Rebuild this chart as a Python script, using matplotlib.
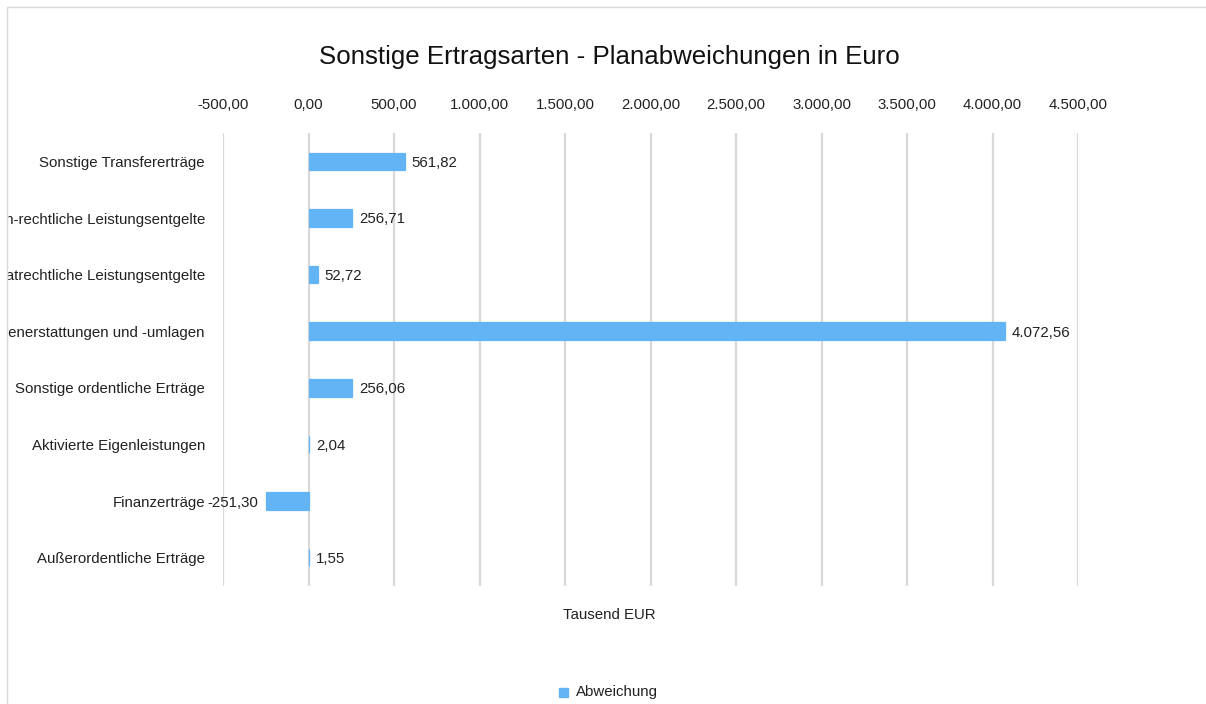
import matplotlib.pyplot as plt
from matplotlib.patches import Rectangle

# Werte in Tausend EUR
categories = [
    "Sonstige Transfererträge",
    "Öffentlich-rechtliche Leistungsentgelte",
    "Privatrechtliche Leistungsentgelte",
    "Kostenerstattungen und -umlagen",
    "Sonstige ordentliche Erträge",
    "Aktivierte Eigenleistungen",
    "Finanzerträge",
    "Außerordentliche Erträge",
]
abweichung = [561.82, 256.71, 52.72, 4072.56, 256.06, 2.04, -251.30, 1.55]
x_ticks = [-500, 0, 500, 1000, 1500, 2000, 2500, 3000, 3500, 4000, 4500]


def de_format(v):
    s = f"{v:,.2f}"
    return s.replace(",", "X").replace(".", ",").replace("X", ".")


plt.rcParams['font.family'] = ['Liberation Sans', 'DejaVu Sans']
fs = 10.8

fig = plt.figure(figsize=(12.06, 7.04), dpi=100)
ax = fig.add_axes([223 / 1206, 118 / 704, 855 / 1206, 453 / 704])

bar_color = '#63B4F5'
y = list(range(len(categories)))
ax.barh(y, abweichung, height=0.31, color=bar_color, edgecolor=bar_color,
        linewidth=0.9, zorder=3)

for yi, v in zip(y, abweichung):
    if v >= 0:
        ax.annotate(de_format(v), (v, yi), xytext=(5, 0), textcoords='offset points',
                    ha='left', va='center_baseline', fontsize=fs, color='#222222')
    else:
        ax.annotate(de_format(v), (v, yi), xytext=(-5, 0), textcoords='offset points',
                    ha='right', va='center_baseline', fontsize=fs, color='#222222')

ax.set_xlim(-500, 4500)
ax.set_ylim(len(categories) - 0.5, -0.5)
ax.set_xticks(x_ticks)
ax.set_xticklabels([de_format(t) for t in x_ticks])
ax.set_yticks(y)
ax.set_yticklabels(categories)

ax.xaxis.tick_top()
ax.tick_params(axis='x', length=0, pad=15, labelsize=fs, labelcolor='#222222')
ax.tick_params(axis='y', length=0, pad=13, labelsize=fs, labelcolor='#222222')
ax.grid(axis='x', color='#D9D9D9', linewidth=1.6, zorder=0)
ax.set_axisbelow(True)
for s in ax.spines.values():
    s.set_visible(False)

fig.text(609 / 1206, 1 - 57 / 704, "Sonstige Ertragsarten - Planabweichungen in Euro",
         ha='center', va='center', fontsize=18.6, color='#111111')
fig.text(609 / 1206, 1 - 615 / 704, "Tausend EUR", ha='center', va='center',
         fontsize=fs, color='#222222')

# Legende
fig.add_artist(Rectangle((559 / 1206, 1 - 697 / 704), 9 / 1206, 9 / 704,
                         transform=fig.transFigure, color=bar_color))
fig.text(576 / 1206, 1 - 692 / 704, "Abweichung", ha='left', va='center',
         fontsize=fs, color='#222222')

# Rahmen des Diagrammbereichs (links abgeschnittene Beschriftungen wie im Original)
fig.add_artist(Rectangle((0, 0), 7 / 1206, 1, transform=fig.transFigure,
                         color='white', zorder=10))
fig.add_artist(Rectangle((7 / 1206, -0.1), 1.2, 1 - 7 / 704 + 0.1,
                         transform=fig.transFigure, fill=False,
                         edgecolor='#D9D9D9', linewidth=1, zorder=11))

fig.savefig('out.png', dpi=100)
